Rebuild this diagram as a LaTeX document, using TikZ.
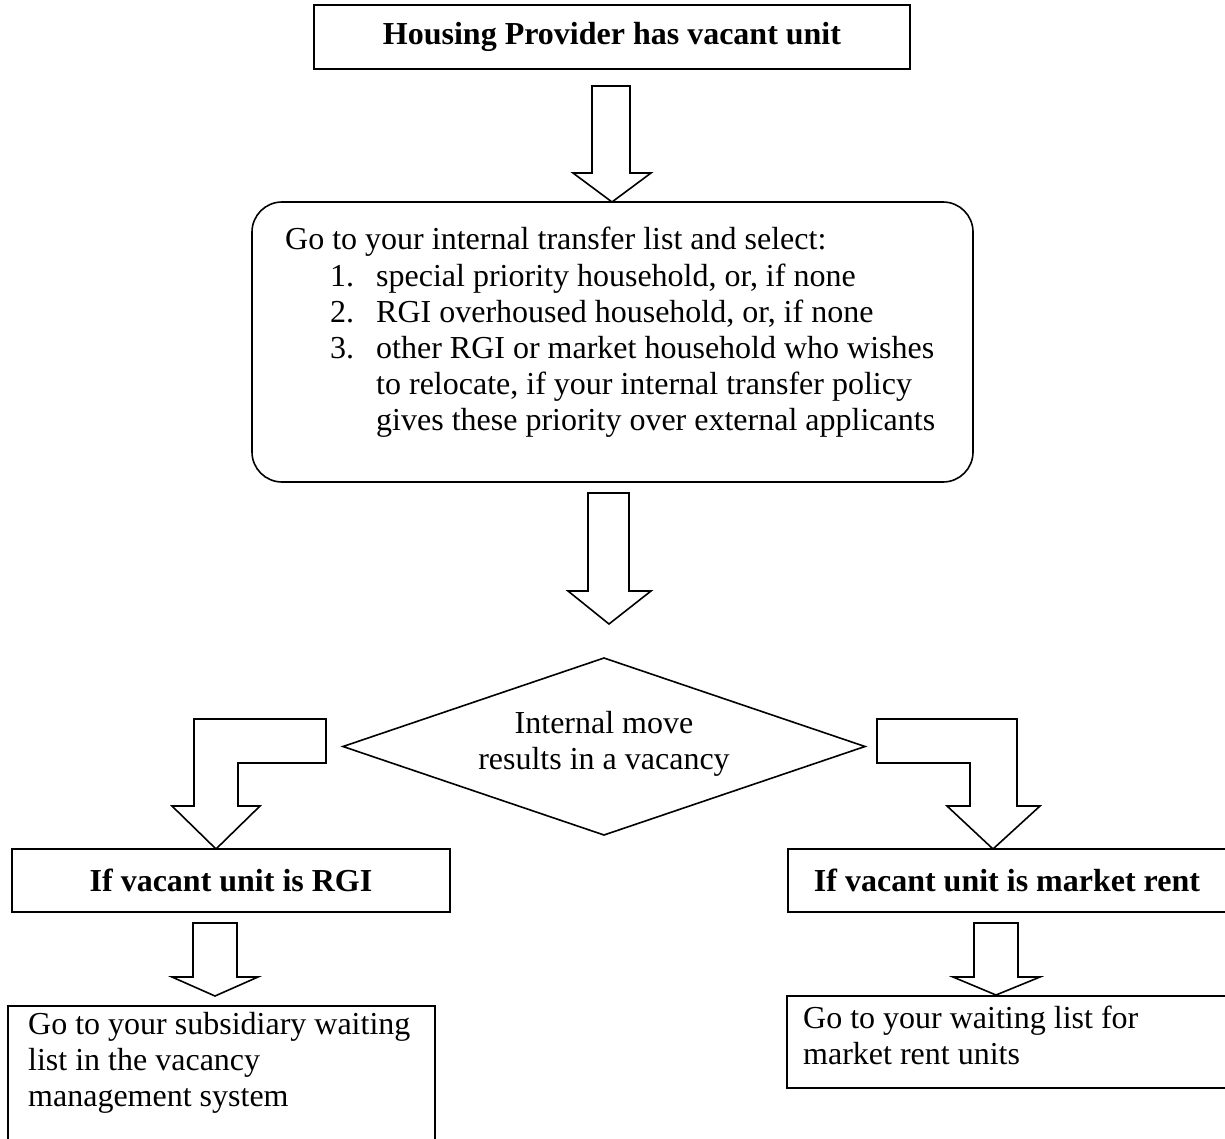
\documentclass[tikz,border=0pt]{standalone}
\usepackage{fontspec}
\setmainfont{Liberation Serif}
\usetikzlibrary{calc}
\newcommand{\bodyfont}{\fontsize{32}{36.2}\selectfont}
\begin{document}
\begin{tikzpicture}[x=1pt,y=-1pt,
  box/.style={draw, line width=1.6pt, inner sep=0pt, font=\bodyfont\bfseries},
  plainbox/.style={draw, line width=1.6pt, inner sep=0pt},
  roundbox/.style={draw, line width=1.6pt, inner sep=0pt, rounded corners=30pt},
  txt/.style={anchor=base west, inner sep=0pt, font=\bodyfont},
  ctxt/.style={anchor=base, inner sep=0pt, font=\bodyfont},
  outline/.style={draw, line width=1.6pt, line join=miter},
  blockarrow/.style={draw, line width=1.6pt, fill=white, line join=miter}]
\useasboundingbox (0,0) rectangle (1225,1139);

% nodes
\node[box, minimum width=596pt, minimum height=64pt] (start) at (612,37) {Housing Provider has vacant unit};
\node[roundbox, minimum width=721pt, minimum height=280pt] (transfer) at (612.5,342) {};
\node[txt] (transfertext) at (285,250) {\parbox[t]{680pt}{\bodyfont
Go to your internal transfer list and select:\\
\hspace*{45pt}\makebox[46pt][l]{1.}special priority household, or, if none\\
\hspace*{45pt}\makebox[46pt][l]{2.}RGI overhoused household, or, if none\\
\hspace*{45pt}\makebox[46pt][l]{3.}other RGI or market household who wishes\\
\hspace*{91pt}to relocate, if your internal transfer policy\\
\hspace*{91pt}gives these priority over external applicants}};

% decision diamond
\coordinate (vc) at (604,746.5);
\draw[outline] ($(vc)+(-261,0)$) coordinate (vw) -- ($(vc)+(0,-88.5)$) coordinate (vn)
  -- ($(vc)+(261,0)$) coordinate (ve) -- ($(vc)+(0,88.5)$) coordinate (vs) -- cycle;
\node[ctxt] (vac) at (604,733) {\parbox[t]{400pt}{\centering\bodyfont Internal move\\results in a vacancy}};

\node[box, minimum width=438pt, minimum height=63pt] (rgi) at (231,880.5) {If vacant unit is RGI};
\node[box, minimum width=438pt, minimum height=63pt] (mkt) at (1007,880.5) {If vacant unit is market rent};
\node[plainbox, minimum width=427pt, minimum height=144pt] (sub) at (221.5,1078) {};
\node[txt] (subtext) at (28,1034) {\parbox[t]{400pt}{\bodyfont Go to your subsidiary waiting\\list in the vacancy\\management system}};
\node[plainbox, minimum width=439pt, minimum height=92pt] (wait) at (1006.5,1042) {};
\node[txt] (waittext) at (803,1028) {\parbox[t]{400pt}{\bodyfont Go to your waiting list for\\market rent units}};

% block arrows
\draw[blockarrow] (592,86) -- (630,86) -- (630,173) -- (651,173) -- (612,202) -- (573,173) -- (592,173) -- cycle;
\draw[blockarrow] (588,493) -- (629,493) -- (629,591) -- (651,591) -- (609,624) -- (568,591) -- (588,591) -- cycle;
\draw[blockarrow] (194,806) -- (194,719) -- (326,719) -- (326,763) -- (238,763) -- (238,806) -- (260,806) -- (216,849) -- (172,806) -- cycle;
\draw[blockarrow] (877,719) -- (1017,719) -- (1017,806) -- (1040,806) -- (993,849) -- (947,806) -- (970,806) -- (970,763) -- (877,763) -- cycle;
\draw[blockarrow] (193,923) -- (237,923) -- (237,977) -- (258,977) -- (215,996) -- (172,977) -- (193,977) -- cycle;
\draw[blockarrow] (974,923) -- (1018,923) -- (1018,977) -- (1040,977) -- (996,995) -- (953,977) -- (974,977) -- cycle;
\end{tikzpicture}
\end{document}
